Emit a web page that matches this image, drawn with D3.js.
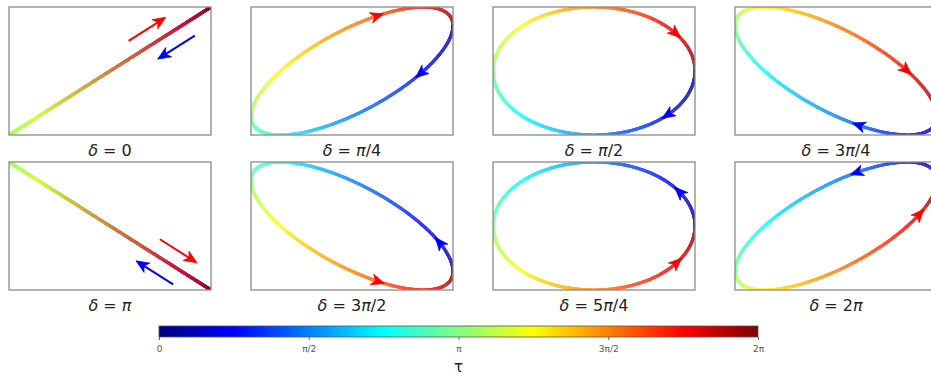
<!DOCTYPE html>
<html>
<head>
<meta charset="utf-8">
<script src="https://cdn.jsdelivr.net/npm/d3@7"></script>
<style>
  html, body { margin: 0; padding: 0; background: #fff; }
  svg { display: block; font-family: "DejaVu Sans", sans-serif; }
</style>
</head>
<body>
<svg id="chart" width="931" height="376"></svg>
<script>
// phase shift of each drawn curve, in units of pi (y = cos(tau + delta))
const deltaValues = [0, 0.25, 0.5, 0.75, 1, 1.25, 1.5, 1.75];
// panel captions, as printed
const deltaLabels = [
  ["0"], ["π", "/4"], ["π", "/2"], ["3", "π", "/4"],
  ["π"], ["3", "π", "/2"], ["5", "π", "/4"], ["2", "π"]
];
// where the arrows sit along each curve (tau, radians)
const blueArrowTau = [0.96, 0.83, 0.76, 1.35, 1.02, 0.53, 0.57, 1.37];
const redArrowTau = [5.18, 4.97, 5.66, 5.49, 5.35, 4.98, 5.68, 5.69];
// colour bar
const cbarTicks = [0, 0.5, 1, 1.5, 2];
const cbarTickLabels = ["0", "π/2", "π", "3π/2", "2π"];

const svg = d3.select("#chart");
const panelW = 202, panelH = 128;
const colStep = 242, rowStep = 155;
const left0 = 9, top0 = 7;

// matplotlib "jet"
function jet(t) {
  const c = v => Math.max(0, Math.min(1, v));
  const r = c(1.5 - Math.abs(4 * t - 3));
  const g = c(1.5 - Math.abs(4 * t - 2));
  const b = c(1.5 - Math.abs(4 * t - 1));
  return d3.rgb(r * 255, g * 255, b * 255).toString();
}

const TAU = 2 * Math.PI;
const nSeg = 500;
const taus = d3.range(nSeg + 1).map(i => i / nSeg * TAU);

function arrowHead(g, px, py, ang, color, size) {
  const L = size, W = size * 0.42;
  const pts = [
    [0, 0], [-L, -W], [-L * 0.72, 0], [-L, W]
  ].map(([a, b]) => [
    px + a * Math.cos(ang) - b * Math.sin(ang),
    py + a * Math.sin(ang) + b * Math.cos(ang)
  ]);
  g.append("path")
    .attr("d", "M" + pts.map(p => p.join(",")).join("L") + "Z")
    .attr("fill", color)
    .attr("stroke", color)
    .attr("stroke-width", 0.8)
    .attr("stroke-linejoin", "miter");
}

deltaValues.forEach((dv, i) => {
  const col = i % 4, row = Math.floor(i / 4);
  const delta = dv * Math.PI;
  const g = svg.append("g")
    .attr("transform", "translate(" + (left0 + col * colStep) + "," + (top0 + row * rowStep) + ")");

  const x = d3.scaleLinear().domain([-1, 1]).range([0, panelW]);
  const y = d3.scaleLinear().domain([-1, 1]).range([panelH, 0]);

  g.append("clipPath").attr("id", "clip" + i)
    .append("rect").attr("width", panelW).attr("height", panelH);

  const fx = t => x(Math.cos(t));
  const fy = t => y(Math.cos(t + delta));

  const curve = g.append("g").attr("clip-path", "url(#clip" + i + ")");
  // two halves, each a bit see-through, so the return trip blends over the first
  [d3.range(0, nSeg / 2), d3.range(nSeg / 2, nSeg)].forEach(half => {
    curve.append("g")
      .attr("opacity", 0.8)
      .selectAll("line")
      .data(half)
      .join("line")
      .attr("x1", k => fx(taus[k]))
      .attr("y1", k => fy(taus[k]))
      .attr("x2", k => fx(taus[k + 1]))
      .attr("y2", k => fy(taus[k + 1]))
      .attr("stroke", k => jet((k + 0.5) / nSeg))
      .attr("stroke-width", 3.2)
      .attr("stroke-linecap", "round");
  });

  const degenerate = Math.abs(Math.sin(delta)) < 1e-6;

  [[blueArrowTau[i], "#0000ff"], [redArrowTau[i], "#ff0000"]].forEach(([t, color]) => {
    const dx = fx(t + 0.01) - fx(t - 0.01);
    const dy = fy(t + 0.01) - fy(t - 0.01);
    const ang = Math.atan2(dy, dx);
    const px = fx(t), py = fy(t);
    if (degenerate) {
      // straight line: draw a full arrow beside the line
      let nx = -Math.sin(ang), ny = Math.cos(ang);
      const wantUp = color === "#ff0000";
      if ((ny < 0) !== wantUp) { nx = -nx; ny = -ny; }
      const off = 15.5;
      const cx = px + nx * off, cy = py + ny * off;
      const half = 22;
      const tx = cx + Math.cos(ang) * half, ty = cy + Math.sin(ang) * half;
      g.append("line")
        .attr("x1", cx - Math.cos(ang) * half).attr("y1", cy - Math.sin(ang) * half)
        .attr("x2", tx - Math.cos(ang) * 8).attr("y2", ty - Math.sin(ang) * 8)
        .attr("stroke", color).attr("stroke-width", 2);
      arrowHead(g, tx, ty, ang, color, 13);
    } else {
      arrowHead(g, px + Math.cos(ang) * 6, py + Math.sin(ang) * 6, ang, color, 13);
    }
  });

  g.append("rect")
    .attr("width", panelW).attr("height", panelH)
    .attr("fill", "none")
    .attr("stroke", "#8a8a8a")
    .attr("stroke-width", 1.3);

  const lab = g.append("text")
    .attr("x", panelW / 2)
    .attr("y", panelH + 21)
    .attr("text-anchor", "middle")
    .attr("font-size", 16)
    .attr("fill", "#222");
  lab.append("tspan").attr("font-style", "italic").text("δ");
  lab.append("tspan").text(" = ");
  deltaLabels[i].forEach(s => {
    lab.append("tspan").attr("font-style", s === "π" ? "italic" : null).text(s);
  });
});

// colour bar
const cbX0 = 159, cbX1 = 758, cbY = 326, cbH = 11;
const defs = svg.append("defs");
const grad = defs.append("linearGradient").attr("id", "jetGrad");
d3.range(0, 1.0001, 1 / 32).forEach(t => {
  grad.append("stop").attr("offset", t).attr("stop-color", jet(t));
});
svg.append("rect")
  .attr("x", cbX0).attr("y", cbY)
  .attr("width", cbX1 - cbX0).attr("height", cbH)
  .attr("fill", "url(#jetGrad)")
  .attr("stroke", "#555")
  .attr("stroke-width", 0.8);

const cbScale = d3.scaleLinear().domain([0, 2]).range([cbX0, cbX1]);
const axis = d3.axisBottom(cbScale)
  .tickValues(cbarTicks)
  .tickSize(3)
  .tickFormat((d, k) => cbarTickLabels[k]);
const ax = svg.append("g")
  .attr("transform", "translate(0," + (cbY + cbH) + ")")
  .call(axis);
ax.select(".domain").remove();
ax.selectAll(".tick line").attr("stroke", "#666");
ax.selectAll(".tick text")
  .attr("font-family", "'DejaVu Sans', sans-serif")
  .attr("font-size", 9)
  .attr("fill", "#555")
  .attr("dy", "1em");

svg.append("text")
  .attr("x", (cbX0 + cbX1) / 2)
  .attr("y", 372)
  .attr("text-anchor", "middle")
  .attr("font-size", 15)
  .attr("fill", "#222")
  .text("τ");
</script>
</body>
</html>
